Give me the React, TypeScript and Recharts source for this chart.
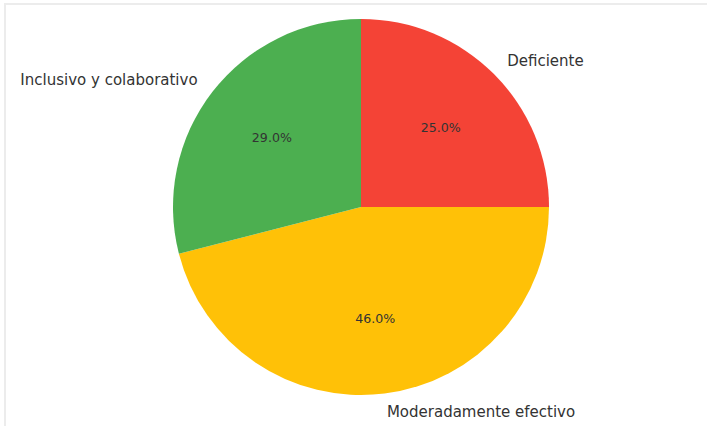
import { Cell, Pie, PieChart } from "recharts";

const categories = ["Deficiente", "Moderadamente efectivo", "Inclusivo y colaborativo"];
const shares = [25, 46, 29];
const colors = ["#F44336", "#FFC107", "#4CAF50"];

const data = categories.map((name, i) => ({ name, value: shares[i] }));

const RADIAN = Math.PI / 180;

function renderLabel(props: any) {
  const { cx, cy, midAngle, outerRadius, percent, name } = props;
  const cos = Math.cos(-midAngle * RADIAN);
  const sin = Math.sin(-midAngle * RADIAN);
  const ox = cx + outerRadius * 1.1 * cos;
  const oy = cy + outerRadius * 1.1 * sin;
  const ix = cx + outerRadius * 0.6 * cos;
  const iy = cy + outerRadius * 0.6 * sin;
  return (
    <g>
      <text
        x={ox}
        y={oy}
        fill="#333"
        fontSize={15}
        textAnchor={cos >= 0 ? "start" : "end"}
        dominantBaseline="central"
      >
        {name}
      </text>
      <text
        x={ix}
        y={iy}
        fill="#333"
        fontSize={12.6}
        textAnchor="middle"
        dominantBaseline="central"
      >
        {`${(percent * 100).toFixed(1)}%`}
      </text>
    </g>
  );
}

export default function App() {
  return (
    <div
      style={{
        position: "absolute",
        left: 0,
        top: 0,
        width: 707,
        height: 426,
        background: "#fff",
        fontFamily: "'DejaVu Sans', sans-serif",
      }}
    >
      <div
        style={{
          position: "absolute",
          left: 4,
          top: 3,
          right: -10,
          bottom: -10,
          borderLeft: "2px solid #ececec",
          borderTop: "2px solid #ececec",
        }}
      />
      <div style={{ position: "absolute", left: 0, top: 0 }}>
        <PieChart width={707} height={426} margin={{ top: 0, right: 0, bottom: 0, left: 0 }}>
          <Pie
            data={data}
            dataKey="value"
            nameKey="name"
            cx={361}
            cy={207}
            outerRadius={188}
            startAngle={90}
            endAngle={-270}
            stroke="none"
            label={renderLabel}
            labelLine={false}
            isAnimationActive={false}
          >
            {data.map((d, i) => (
              <Cell key={d.name} fill={colors[i]} />
            ))}
          </Pie>
        </PieChart>
      </div>
    </div>
  );
}
